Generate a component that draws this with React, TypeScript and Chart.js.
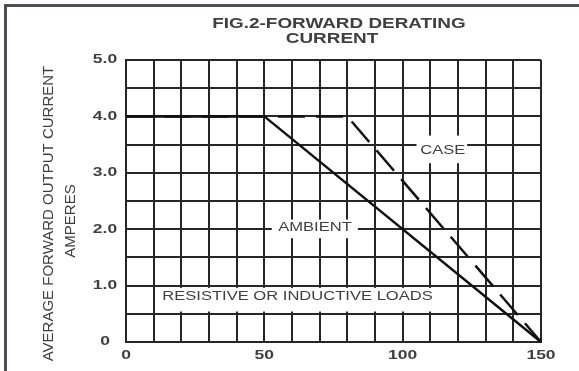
import { useEffect, useRef } from 'react';
import { Chart, registerables } from 'chart.js';

Chart.register(...registerables);

// Derating curves: temperature (°C) vs. average forward output current (A)
const ambientTemps = [0, 50, 150];
const ambientCurrent = [4.0, 4.0, 0];
const caseTemps = [0, 80, 150];
const caseCurrent = [4.0, 4.0, 0];

// Labelled ticks (grid still runs every 10 °C and every 0.5 A)
const xTickValues = [0, 50, 100, 150];
const xTickLabels = ['0', '50', '100', '150'];
const yTickValues = [0, 1, 2, 3, 4, 5];
const yTickLabels = ['0', '1.0', '2.0', '3.0', '4.0', '5.0'];

const titleLines = ['FIG.2-FORWARD DERATING', 'CURRENT'];
const yTitleLines = ['AVERAGE FORWARD OUTPUT CURRENT', 'AMPERES'];

// In-plot captions with the white patch that masks the grid behind them (data units)
const captions = [
  { text: 'CASE', x: 114.5, y: 3.4, box: [105, 123.3, 3.17, 3.66] },
  { text: 'AMBIENT', x: 68.3, y: 2.02, box: [52.7, 83.8, 1.84, 2.17] },
  { text: 'RESISTIVE OR INDUCTIVE LOADS', x: 62, y: 0.8, box: [11, 119, 0.54, 0.96] },
];

const INK = '#111';
const GRID = '#262626';
const TEXT = '#3f3f3f';
const FONT = '"Liberation Sans", Arial, sans-serif';

function wideText(ctx: CanvasRenderingContext2D, text: string, x: number, y: number, font: string, sx: number) {
  ctx.save();
  ctx.font = font;
  ctx.fillStyle = TEXT;
  ctx.textAlign = 'center';
  ctx.textBaseline = 'middle';
  ctx.translate(x, y);
  ctx.scale(sx, 1);
  ctx.fillText(text, 0, 0);
  ctx.restore();
}

function verticalText(ctx: CanvasRenderingContext2D, text: string, x: number, y: number, font: string) {
  ctx.save();
  ctx.font = font;
  ctx.fillStyle = TEXT;
  ctx.textAlign = 'center';
  ctx.textBaseline = 'middle';
  ctx.translate(x, y);
  ctx.rotate(-Math.PI / 2);
  ctx.fillText(text, 0, 0);
  ctx.restore();
}

const textPlugin = {
  id: 'deratingText',
  beforeDatasetsDraw(chart: any) {
    const { ctx, scales } = chart;
    const xs = scales.x;
    const ys = scales.y;
    ctx.save();
    ctx.fillStyle = '#fff';
    for (const c of captions) {
      const [x0, x1, y0, y1] = c.box;
      const px0 = xs.getPixelForValue(x0);
      const px1 = xs.getPixelForValue(x1);
      const py0 = ys.getPixelForValue(y1);
      const py1 = ys.getPixelForValue(y0);
      ctx.fillRect(px0, py0, px1 - px0, py1 - py0);
    }
    ctx.restore();
    for (const c of captions) {
      wideText(ctx, c.text, xs.getPixelForValue(c.x), ys.getPixelForValue(c.y), `12px ${FONT}`, 1.38);
    }
  },
  afterDraw(chart: any) {
    const { ctx, scales, chartArea } = chart;
    const xs = scales.x;
    const ys = scales.y;
    xTickValues.forEach((v, i) => {
      wideText(ctx, xTickLabels[i], xs.getPixelForValue(v), chartArea.bottom + 14, `bold 12.5px ${FONT}`, 1.4);
    });
    yTickValues.forEach((v, i) => {
      wideText(ctx, yTickLabels[i], chartArea.left - 21, ys.getPixelForValue(v), `bold 12.5px ${FONT}`, 1.4);
    });
    // Title, two lines above the grid
    wideText(ctx, titleLines[0], 339, 24, `bold 14px ${FONT}`, 1.35);
    wideText(ctx, titleLines[1], 332, 39.5, `bold 14px ${FONT}`, 1.35);
    // Rotated y-axis title
    verticalText(ctx, yTitleLines[0], 49, 213.5, `15px ${FONT}`);
    verticalText(ctx, yTitleLines[1], 71, 221, `15px ${FONT}`);
  },
};

export default function App() {
  const canvasRef = useRef<HTMLCanvasElement | null>(null);

  useEffect(() => {
    const canvas = canvasRef.current;
    if (!canvas) return;
    const chart = new Chart(canvas, {
      type: 'line',
      data: {
        datasets: [
          {
            label: 'AMBIENT',
            data: ambientTemps.map((t, i) => ({ x: t, y: ambientCurrent[i] })),
            borderColor: INK,
            borderWidth: 2.5,
            pointRadius: 0,
            fill: false,
            tension: 0,
            clip: 4,
          },
          {
            label: 'CASE',
            data: caseTemps.map((t, i) => ({ x: t, y: caseCurrent[i] })),
            borderColor: INK,
            borderWidth: 2.5,
            borderDash: [27, 11],
            pointRadius: 0,
            fill: false,
            tension: 0,
            clip: 4,
          },
        ],
      },
      options: {
        animation: false,
        responsive: true,
        maintainAspectRatio: false,
        layout: { padding: { left: 126, top: 60, right: 38, bottom: 29 } },
        plugins: {
          legend: { display: false },
          tooltip: { enabled: false },
          title: { display: false },
        },
        scales: {
          x: {
            type: 'linear',
            min: 0,
            max: 150,
            ticks: { stepSize: 10, display: false },
            grid: { color: GRID, lineWidth: 2, drawTicks: false },
            border: { color: GRID, width: 2 },
          },
          y: {
            type: 'linear',
            min: 0,
            max: 5,
            ticks: { stepSize: 0.5, display: false },
            grid: { color: GRID, lineWidth: 2, drawTicks: false },
            border: { color: GRID, width: 2 },
          },
        },
      },
      plugins: [textPlugin],
    });
    return () => chart.destroy();
  }, []);

  return (
    <div style={{ position: 'fixed', left: 0, top: 0, width: 579, height: 371, background: '#fff', overflow: 'hidden' }}>
      <div style={{ position: 'absolute', inset: 0 }}>
        <canvas ref={canvasRef} />
      </div>
      <div style={{ position: 'absolute', left: 4, top: 4, width: 575, height: 3, background: '#4b5058' }} />
      <div style={{ position: 'absolute', left: 4, top: 4, width: 3, height: 367, background: '#4b5058' }} />
    </div>
  );
}
